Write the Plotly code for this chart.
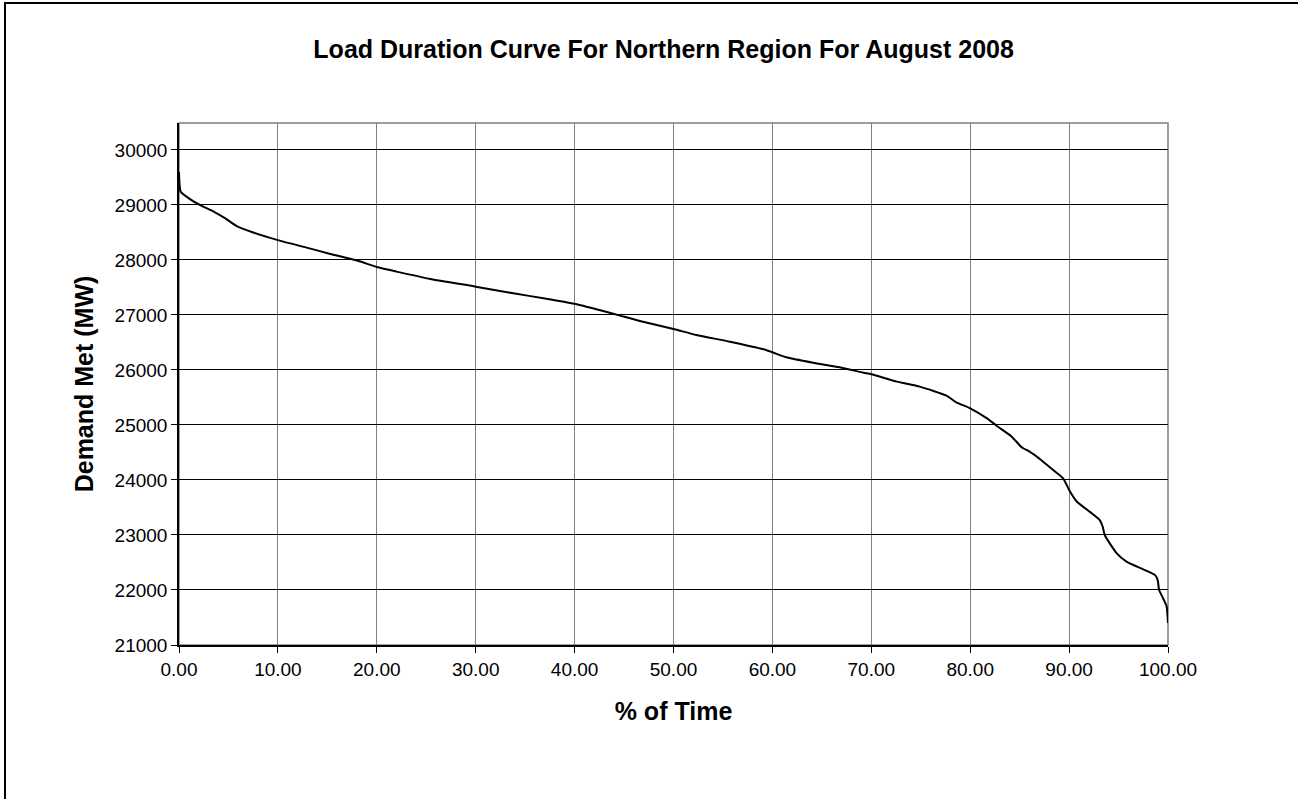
"""Load duration curve, Northern Region, August 2008 (plotly)."""
import plotly.graph_objs as go

# % of time vs. demand met (MW)
pct_time = [0, 0.17, 1.0, 2.1, 3.5, 4.65, 5.8, 7.5, 10.0, 13.0, 15.3, 18.0,
            20.1, 22.0, 25.4, 30.0, 33.8, 37.0, 40.1, 42.5, 44.6, 46.6, 50.0,
            52.3, 55.7, 59.1, 60.0, 61.4, 64.1, 66.8, 69.2, 70.0, 72.6, 74.9,
            77.6, 78.6, 80.0, 81.7, 82.7, 84.2, 85.2, 86.0, 87.2, 88.4, 89.4,
            90.0, 90.8, 92.1, 93.1, 93.4, 93.6, 94.8, 95.8, 97.5, 98.7, 98.96,
            99.1, 99.5, 99.86, 100.0]
demand_mw = [29600, 29240, 29120, 29000, 28880, 28760, 28620, 28500, 28360,
             28220, 28110, 27990, 27867, 27788, 27655, 27515, 27394, 27300,
             27200, 27090, 26988, 26890, 26745, 26636, 26515, 26376, 26322,
             26231, 26133, 26048, 25951, 25922, 25788, 25697, 25533, 25412,
             25303, 25121, 24982, 24788, 24594, 24515, 24360, 24180, 24030,
             23820, 23605, 23420, 23270, 23150, 23000, 22670, 22515, 22375,
             22270, 22180, 22000, 21850, 21700, 21400]

x_ticks = [0, 10, 20, 30, 40, 50, 60, 70, 80, 90, 100]
y_ticks = [21000, 22000, 23000, 24000, 25000, 26000, 27000, 28000, 29000, 30000]

FONT = "Liberation Sans, Arial, sans-serif"

fig = go.Figure([go.Scatter(
    x=pct_time,
    y=demand_mw,
    mode="lines",
    line=dict(color="black", width=2, shape="spline", smoothing=0.5),
    showlegend=False,
)])

fig.update_layout(
    width=1298,
    height=799,
    paper_bgcolor="white",
    plot_bgcolor="white",
    margin=dict(l=179, r=130, t=123, b=154),
    font=dict(family=FONT, size=19, color="black"),
    title=dict(
        text="<b>Load Duration Curve For Northern Region For August 2008</b>",
        font=dict(size=25, color="black"),
        xref="paper", x=0.49, xanchor="center",
        y=1 - 49 / 799, yanchor="middle",
    ),
    xaxis=dict(
        range=[0, 100],
        tickvals=x_ticks,
        tickformat=".2f",
        showgrid=True,
        gridcolor="#7f7f7f",
        gridwidth=1,
        showline=True,
        linecolor="black",
        linewidth=1.5,
        ticks="outside",
        ticklen=6,
        tickcolor="black",
        zeroline=False,
        title=dict(text="<b>% of Time</b>", font=dict(size=25), standoff=24),
    ),
    yaxis=dict(
        range=[21000, 30490],
        tickvals=y_ticks,
        tickformat="d",
        showgrid=True,
        gridcolor="black",
        gridwidth=1,
        showline=True,
        linecolor="black",
        linewidth=1.5,
        ticks="outside",
        ticklen=6,
        tickcolor="black",
        zeroline=False,
        title=dict(text="<b>Demand Met (MW)</b>", font=dict(size=25), standoff=14),
    ),
    shapes=[
        # plot area border (gray top / right)
        dict(type="rect", xref="paper", yref="paper", x0=0, x1=1, y0=0, y1=1,
             line=dict(color="#7f7f7f", width=1.5), layer="below"),
        # outer chart frame
        dict(type="rect", xref="paper", yref="paper",
             x0=(5 - 179) / 989, x1=1.25, y0=-0.5, y1=(645 - 3) / 522,
             line=dict(color="black", width=2)),
    ],
)

# drop the page's default body margin so the figure sits at the window corner
fig.write_html("out.html", config={"displayModeBar": False},
               post_script="document.body.style.margin='0px';")
